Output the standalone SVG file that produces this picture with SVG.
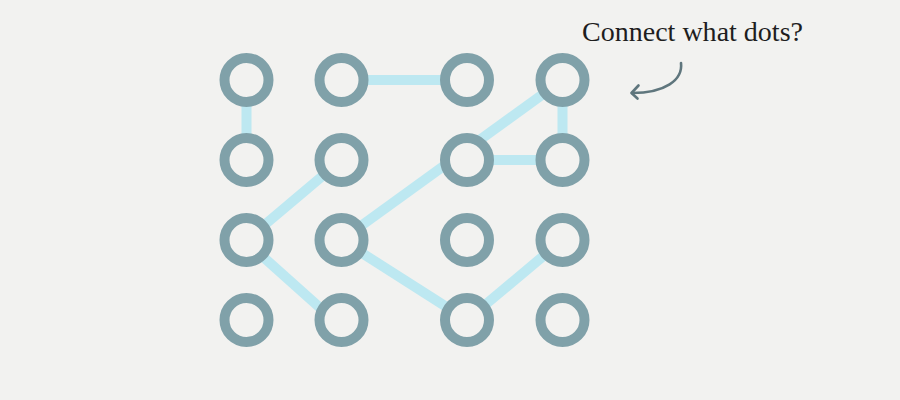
<svg xmlns="http://www.w3.org/2000/svg" width="900" height="400" viewBox="0 0 900 400">
<style>
.link{stroke:#bde8f1;stroke-width:10;fill:none;stroke-linecap:butt}
.dot{fill:#f2f2f0;stroke:#80a1a9;stroke-width:10}
.label{font-family:"Liberation Serif","Times New Roman",serif;font-size:28px;fill:#1e1e1e}
.arrow{fill:none;stroke:#5f767d;stroke-width:2.6;stroke-linecap:round;stroke-linejoin:round}
</style>
<rect width="900" height="400" fill="#f2f2f0"/>
<g id="connectors">
<line class="link" x1="246.5" y1="80" x2="246.5" y2="160"/>
<line class="link" x1="341.5" y1="80" x2="467" y2="80"/>
<line class="link" x1="562.5" y1="80" x2="562.5" y2="160"/>
<line class="link" x1="467" y1="160" x2="562.5" y2="160"/>
<line class="link" x1="562.5" y1="80" x2="341.5" y2="240"/>
<line class="link" x1="341.5" y1="160" x2="246.5" y2="240"/>
<line class="link" x1="246.5" y1="242" x2="341.5" y2="327"/>
<line class="link" x1="341.5" y1="240" x2="467" y2="320"/>
<line class="link" x1="467" y1="320" x2="562.5" y2="240"/>
</g>
<g id="dot-r1c1"><circle class="dot" cx="246.5" cy="80" r="22"/></g>
<g id="dot-r1c2"><circle class="dot" cx="341.5" cy="80" r="22"/></g>
<g id="dot-r1c3"><circle class="dot" cx="467" cy="80" r="22"/></g>
<g id="dot-r1c4"><circle class="dot" cx="562.5" cy="80" r="22"/></g>
<g id="dot-r2c1"><circle class="dot" cx="246.5" cy="160" r="22"/></g>
<g id="dot-r2c2"><circle class="dot" cx="341.5" cy="160" r="22"/></g>
<g id="dot-r2c3"><circle class="dot" cx="467" cy="160" r="22"/></g>
<g id="dot-r2c4"><circle class="dot" cx="562.5" cy="160" r="22"/></g>
<g id="dot-r3c1"><circle class="dot" cx="246.5" cy="240" r="22"/></g>
<g id="dot-r3c2"><circle class="dot" cx="341.5" cy="240" r="22"/></g>
<g id="dot-r3c3"><circle class="dot" cx="467" cy="240" r="22"/></g>
<g id="dot-r3c4"><circle class="dot" cx="562.5" cy="240" r="22"/></g>
<g id="dot-r4c1"><circle class="dot" cx="246.5" cy="320" r="22"/></g>
<g id="dot-r4c2"><circle class="dot" cx="341.5" cy="320" r="22"/></g>
<g id="dot-r4c3"><circle class="dot" cx="467" cy="320" r="22"/></g>
<g id="dot-r4c4"><circle class="dot" cx="562.5" cy="320" r="22"/></g>
<g id="callout">
<text class="label" x="582" y="41" textLength="221" lengthAdjust="spacingAndGlyphs">Connect what dots?</text>
<path class="arrow" d="M681,63 C683,80 665,93 632,93"/>
<path class="arrow" d="M638.5,85.5 L631.5,93 L637.5,98.5"/>
</g>
</svg>
